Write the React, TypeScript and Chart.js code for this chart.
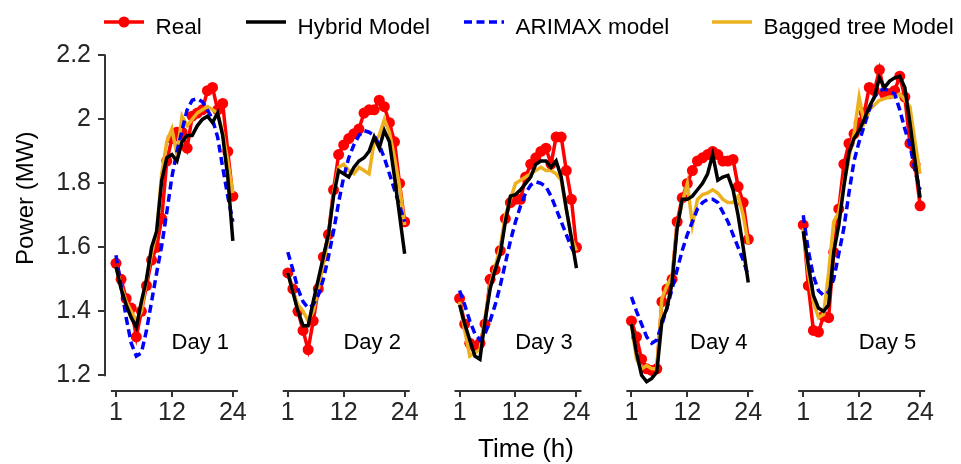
import React, { useEffect, useRef } from "react";
import { Chart, registerables } from "chart.js";

Chart.register(...registerables);

// ---------- data ----------
const hours = [1, 2, 3, 4, 5, 6, 7, 8, 9, 10, 11, 12, 13, 14, 15, 16, 17, 18, 19, 20, 21, 22, 23, 24];
const xTickHours = [1, 12, 24];
const xTickLabels = ["1", "12", "24"];
const yTickValues = [1.2, 1.4, 1.6, 1.8, 2.0, 2.2];
const yTickLabels = ["1.2", "1.4", "1.6", "1.8", "2", "2.2"];
const dayLabels = ["Day 1", "Day 2", "Day 3", "Day 4", "Day 5"];
const seriesNames = ["Real", "Hybrid Model", "ARIMAX model", "Bagged tree Model"];

const realDay1 = [1.55, 1.5, 1.44, 1.41, 1.32, 1.4, 1.48, 1.56, 1.6, 1.69, 1.87, 1.94, 1.96, 1.96, 1.91, 2.01, 2.02, 2.03, 2.09, 2.1, 2.03, 2.05, 1.9, 1.76];
const hybridDay1 = [1.54, 1.47, 1.42, 1.38, 1.35, 1.43, 1.5, 1.6, 1.65, 1.81, 1.88, 1.89, 1.87, 1.93, 1.95, 1.95, 1.98, 2.0, 2.01, 1.99, 2.02, 1.95, 1.82, 1.62];
const arimaxDay1 = [1.575, 1.48, 1.38, 1.3, 1.26, 1.27, 1.34, 1.43, 1.52, 1.605, 1.71, 1.82, 1.9, 1.965, 2.03, 2.06, 2.065, 2.055, 2.03, 2.0, 1.945, 1.85, 1.76, 1.68];
const baggedDay1 = [1.54, 1.48, 1.43, 1.4, 1.37, 1.4, 1.5, 1.58, 1.65, 1.83, 1.93, 1.97, 1.89, 2.01, 1.98, 2.0, 2.02, 2.03, 2.04, 2.03, 2.02, 1.96, 1.87, 1.77];

const realDay2 = [1.52, 1.47, 1.4, 1.34, 1.28, 1.37, 1.47, 1.57, 1.64, 1.78, 1.89, 1.92, 1.94, 1.955, 1.97, 2.02, 2.03, 2.03, 2.06, 2.04, 1.99, 1.93, 1.8, 1.68];
const hybridDay2 = [1.52, 1.46, 1.4, 1.355, 1.355, 1.43, 1.5, 1.57, 1.64, 1.76, 1.84, 1.83, 1.82, 1.85, 1.87, 1.88, 1.9, 1.945, 1.91, 1.965, 1.93, 1.82, 1.7, 1.58];
const arimaxDay2 = [1.585, 1.53, 1.47, 1.43, 1.41, 1.42, 1.45, 1.5, 1.57, 1.65, 1.74, 1.82, 1.88, 1.92, 1.95, 1.965, 1.96, 1.95, 1.92, 1.88, 1.83, 1.78, 1.73, 1.68];
const baggedDay2 = [1.52, 1.46, 1.42, 1.4, 1.37, 1.4, 1.47, 1.55, 1.63, 1.77, 1.85, 1.86, 1.84, 1.83, 1.85, 1.84, 1.83, 1.93, 1.95, 2.0, 1.96, 1.88, 1.79, 1.67];

const realDay3 = [1.44, 1.36, 1.3, 1.29, 1.3, 1.36, 1.5, 1.53, 1.59, 1.69, 1.74, 1.75, 1.75, 1.82, 1.86, 1.88, 1.9, 1.91, 1.86, 1.945, 1.945, 1.84, 1.75, 1.6];
const hybridDay3 = [1.42, 1.36, 1.31, 1.26, 1.25, 1.37, 1.47, 1.53, 1.58, 1.68, 1.76, 1.765, 1.78, 1.8, 1.82, 1.86, 1.87, 1.87, 1.85, 1.87, 1.82, 1.72, 1.63, 1.535];
const arimaxDay3 = [1.465, 1.42, 1.37, 1.33, 1.31, 1.33, 1.37, 1.42, 1.48, 1.55, 1.62, 1.68, 1.73, 1.77, 1.795, 1.805, 1.8, 1.79, 1.76, 1.72, 1.68, 1.64, 1.6, 1.57];
const baggedDay3 = [1.43, 1.34, 1.26, 1.27, 1.28, 1.38, 1.48, 1.54, 1.6, 1.7, 1.75, 1.8, 1.81, 1.82, 1.83, 1.84, 1.85, 1.84, 1.84, 1.83, 1.81, 1.72, 1.63, 1.59];

const realDay4 = [1.37, 1.32, 1.25, 1.22, 1.215, 1.22, 1.43, 1.47, 1.5, 1.68, 1.755, 1.8, 1.84, 1.87, 1.88, 1.89, 1.9, 1.89, 1.87, 1.87, 1.875, 1.79, 1.74, 1.625];
const hybridDay4 = [1.36, 1.27, 1.2, 1.18, 1.19, 1.21, 1.37, 1.41, 1.49, 1.66, 1.75, 1.75, 1.76, 1.78, 1.8, 1.83, 1.89, 1.81, 1.82, 1.825, 1.78, 1.7, 1.6, 1.49];
const arimaxDay4 = [1.445, 1.4, 1.36, 1.32, 1.3, 1.31, 1.36, 1.41, 1.47, 1.53, 1.59, 1.64, 1.68, 1.72, 1.74, 1.75, 1.75, 1.74, 1.71, 1.68, 1.64, 1.6, 1.56, 1.51];
const baggedDay4 = [1.36, 1.25, 1.22, 1.23, 1.22, 1.22, 1.44, 1.48, 1.51, 1.67, 1.74, 1.8, 1.67, 1.75, 1.765, 1.77, 1.78, 1.77, 1.75, 1.74, 1.74, 1.76, 1.7, 1.61];

const realDay5 = [1.67, 1.48, 1.34, 1.335, 1.385, 1.38, 1.585, 1.72, 1.86, 1.925, 1.955, 1.99, 2.02, 2.1, 2.09, 2.155, 2.08, 2.08, 2.09, 2.135, 2.07, 1.925, 1.86, 1.73];
const hybridDay5 = [1.65, 1.545, 1.45, 1.41, 1.4, 1.42, 1.585, 1.67, 1.79, 1.895, 1.94, 1.965, 2.0, 2.04, 2.07, 2.13, 2.1, 2.12, 2.13, 2.135, 2.1, 1.99, 1.87, 1.755];
const arimaxDay5 = [1.7, 1.59, 1.51, 1.465, 1.45, 1.46, 1.5, 1.58, 1.66, 1.77, 1.87, 1.93, 1.98, 2.03, 2.07, 2.09, 2.095, 2.09, 2.08, 2.03, 1.97, 1.92, 1.84, 1.78];
const baggedDay5 = [1.66, 1.52, 1.43, 1.38, 1.39, 1.52, 1.68, 1.71, 1.8, 1.88, 1.955, 2.07, 1.99, 2.03, 2.045, 2.06, 2.065, 2.07, 2.07, 2.08, 2.06, 2.04, 1.93, 1.83];

// ---------- layout / style constants ----------
const PANEL_SPAN = 33.82; // hours between the starts of neighbouring day panels
const AXIS_FROM = 0;
const AXIS_TO = 25;
const X_MIN = -1.165;
const X_MAX = 164.58;
const Y_MIN = 1.1507;
const Y_MAX = 2.3563;
const FONT = "'Liberation Sans', Arial, Helvetica, sans-serif";
const AXIS_COLOR = "#333333";
const TICK_COLOR = "#262626";
const LEGEND_X = [104, 246, 464, 712];
const LINE_W = 3.5;

type Pt = { x: number; y: number | null };
function buildPoints(days: number[][]): Pt[] {
  const pts: Pt[] = [];
  days.forEach((vals, k) => {
    vals.forEach((v, i) => pts.push({ x: hours[i] + k * PANEL_SPAN, y: v }));
    if (k < days.length - 1) pts.push({ x: hours[hours.length - 1] + k * PANEL_SPAN + 4, y: null });
  });
  return pts;
}

const decorPlugin = {
  id: "panelDecor",
  afterDraw(chart: any) {
    const { ctx, chartArea, scales } = chart;
    const xs = scales.x;
    const ys = scales.y;
    ctx.save();
    // axis lines (offset style)
    ctx.strokeStyle = AXIS_COLOR;
    ctx.lineWidth = 2;
    ctx.setLineDash([]);
    ctx.beginPath();
    ctx.moveTo(chartArea.left, ys.getPixelForValue(yTickValues[0]) + 1);
    ctx.lineTo(chartArea.left, ys.getPixelForValue(yTickValues[yTickValues.length - 1]) - 1);
    ctx.stroke();
    dayLabels.forEach((_, k) => {
      ctx.beginPath();
      ctx.moveTo(xs.getPixelForValue(AXIS_FROM + k * PANEL_SPAN), chartArea.bottom);
      ctx.lineTo(xs.getPixelForValue(AXIS_TO + k * PANEL_SPAN), chartArea.bottom);
      ctx.stroke();
    });
    // day labels
    ctx.fillStyle = "#000";
    ctx.font = `22px ${FONT}`;
    ctx.textAlign = "center";
    ctx.textBaseline = "middle";
    dayLabels.forEach((lab, k) => {
      const h = k === 3 ? 18.2 : 17.6;
      ctx.fillText(lab, xs.getPixelForValue(h + k * PANEL_SPAN), ys.getPixelForValue(1.3));
    });
    // legend
    ctx.textAlign = "left";
    ctx.textBaseline = "alphabetic";
    chart.data.datasets.forEach((ds: any, i: number) => {
      const x0 = LEGEND_X[i];
      const ly = 22;
      ctx.strokeStyle = ds.borderColor;
      ctx.lineWidth = ds.borderWidth;
      ctx.setLineDash(ds.borderDash || []);
      ctx.beginPath();
      ctx.moveTo(x0, ly);
      ctx.lineTo(x0 + 40, ly);
      ctx.stroke();
      ctx.setLineDash([]);
      if (ds.pointRadius > 0) {
        ctx.fillStyle = ds.pointBackgroundColor;
        ctx.beginPath();
        ctx.arc(x0 + 20, ly, ds.pointRadius, 0, Math.PI * 2);
        ctx.fill();
      }
      ctx.fillStyle = "#000";
      ctx.font = `22.5px ${FONT}`;
      ctx.fillText(ds.label, x0 + 51.5, 34);
    });
    ctx.restore();
  },
};

export default function App() {
  const canvasRef = useRef<HTMLCanvasElement | null>(null);

  useEffect(() => {
    if (!canvasRef.current) return;
    Chart.defaults.font.family = FONT;
    const chart = new Chart(canvasRef.current, {
      type: "line",
      data: {
        datasets: [
          {
            label: seriesNames[0],
            data: buildPoints([realDay1, realDay2, realDay3, realDay4, realDay5]),
            borderColor: "#ff0000",
            backgroundColor: "#ff0000",
            pointBackgroundColor: "#ff0000",
            pointBorderWidth: 0,
            pointRadius: 5.5,
            pointHoverRadius: 5.5,
            borderWidth: LINE_W,
            tension: 0,
            spanGaps: false,
            order: 4,
          },
          {
            label: seriesNames[1],
            data: buildPoints([hybridDay1, hybridDay2, hybridDay3, hybridDay4, hybridDay5]),
            borderColor: "#000000",
            backgroundColor: "#000000",
            pointRadius: 0,
            borderWidth: LINE_W,
            tension: 0,
            spanGaps: false,
            order: 1,
          },
          {
            label: seriesNames[2],
            data: buildPoints([arimaxDay1, arimaxDay2, arimaxDay3, arimaxDay4, arimaxDay5]),
            borderColor: "#0000ff",
            backgroundColor: "#0000ff",
            borderDash: [8, 4.5],
            pointRadius: 0,
            borderWidth: LINE_W,
            tension: 0,
            spanGaps: false,
            order: 2,
          },
          {
            label: seriesNames[3],
            data: buildPoints([baggedDay1, baggedDay2, baggedDay3, baggedDay4, baggedDay5]),
            borderColor: "#EDB120",
            backgroundColor: "#EDB120",
            pointRadius: 0,
            borderWidth: LINE_W,
            tension: 0,
            spanGaps: false,
            order: 3,
          },
        ] as any,
      },
      options: {
        animation: false,
        responsive: true,
        maintainAspectRatio: false,
        events: [],
        layout: { padding: { top: 0, left: 0, right: 14, bottom: 0 } },
        plugins: { legend: { display: false }, tooltip: { enabled: false } },
        scales: {
          x: {
            type: "linear",
            min: X_MIN,
            max: X_MAX,
            border: { display: false },
            grid: { display: true, drawOnChartArea: false, drawTicks: true, tickLength: 6, lineWidth: 2, color: AXIS_COLOR },
            ticks: {
              autoSkip: false,
              maxRotation: 0,
              minRotation: 0,
              padding: 1,
              color: TICK_COLOR,
              font: { size: 25 },
              callback: (_v: any, i: number) => xTickLabels[i % xTickLabels.length],
            },
            afterBuildTicks: (s: any) => {
              s.ticks = dayLabels.flatMap((_, k) => xTickHours.map((h) => ({ value: h + k * PANEL_SPAN })));
            },
            afterFit: (s: any) => {
              s.height = 73;
              s.paddingLeft = 0;
              s.paddingRight = 0;
            },
            title: { display: true, text: "Time (h)", color: "#000", font: { size: 26, lineHeight: 1.1 }, padding: { top: 0, bottom: 0 } },
          },
          y: {
            type: "linear",
            min: Y_MIN,
            max: Y_MAX,
            border: { display: false },
            grid: { display: true, drawOnChartArea: false, drawTicks: true, tickLength: 7, lineWidth: 2, color: AXIS_COLOR },
            ticks: {
              padding: 7,
              color: TICK_COLOR,
              font: { size: 25 },
              callback: (_v: any, i: number) => yTickLabels[i],
            },
            afterBuildTicks: (s: any) => {
              s.ticks = yTickValues.map((v) => ({ value: v }));
            },
            afterFit: (s: any) => {
              s.width = 105;
              s.paddingTop = 0;
              s.paddingBottom = 0;
            },
            title: { display: true, text: "Power (MW)", color: "#000", font: { size: 24 }, padding: { top: 12, bottom: 0 } },
          },
        },
      } as any,
      plugins: [decorPlugin],
    });
    return () => chart.destroy();
  }, []);

  return (
    <div style={{ position: "fixed", left: 0, top: 0, width: 961, height: 464, background: "#fff" }}>
      <canvas ref={canvasRef} />
    </div>
  );
}
